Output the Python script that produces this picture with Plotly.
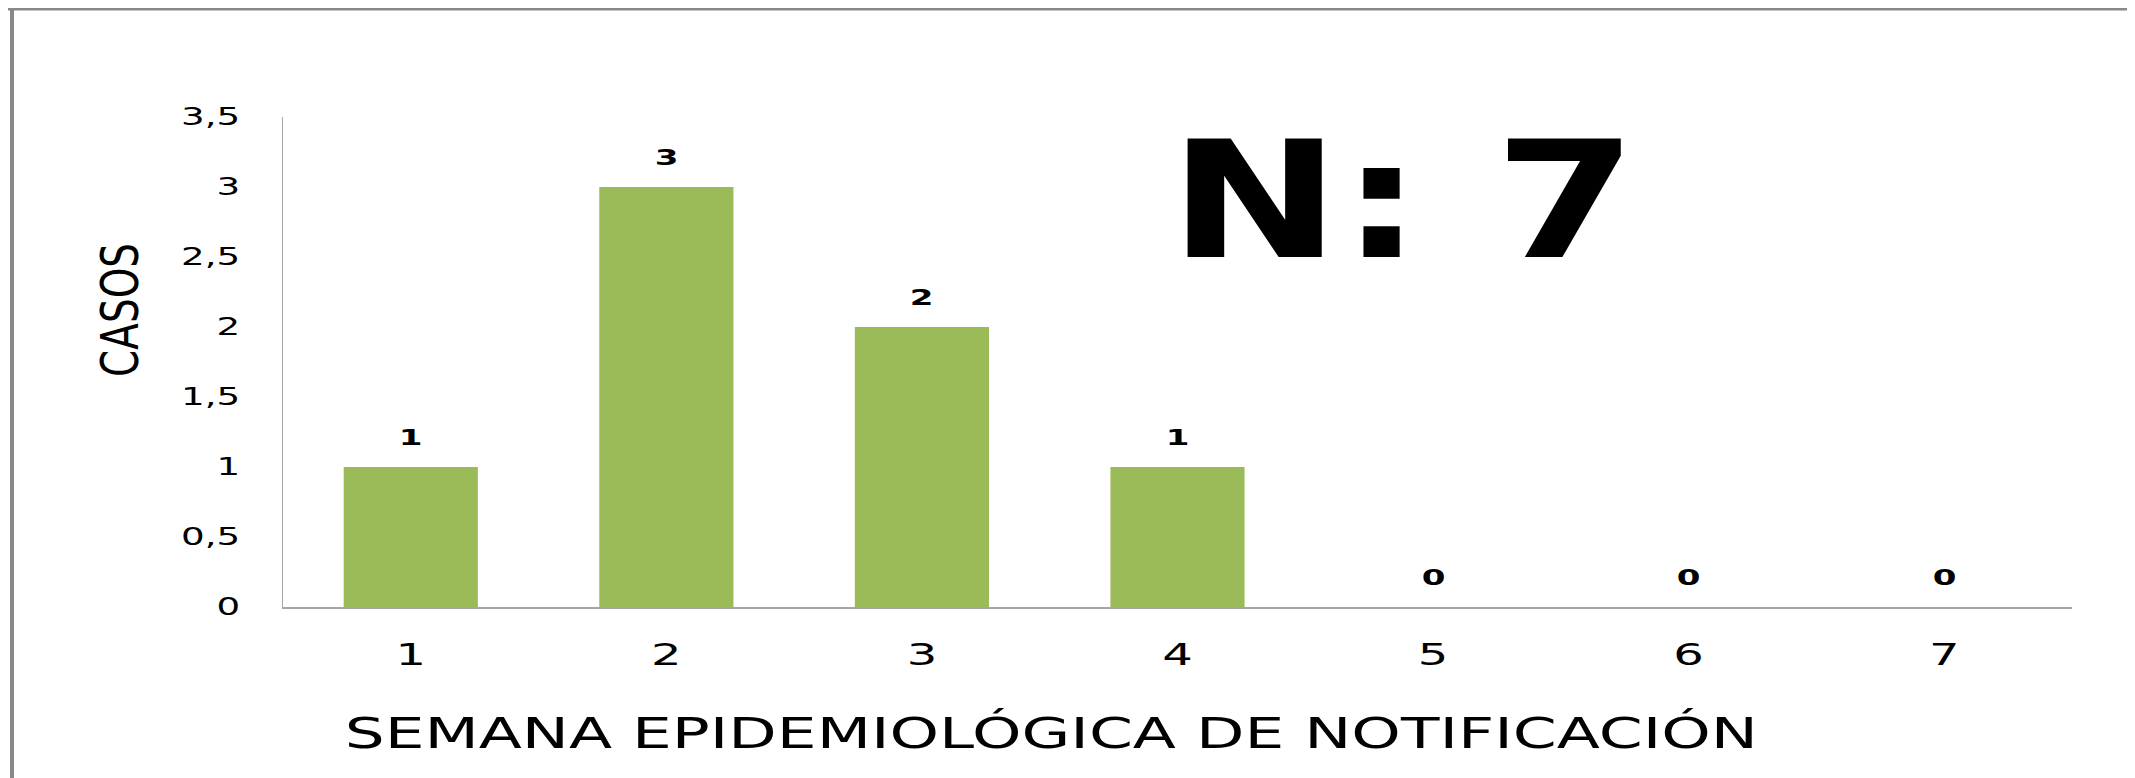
import plotly.graph_objects as go

semanas = ["1", "2", "3", "4", "5", "6", "7"]
casos = [1, 3, 2, 1, 0, 0, 0]
y_ticks = [0, 0.5, 1, 1.5, 2, 2.5, 3, 3.5]
y_tick_labels = ["0", "0,5", "1", "1,5", "2", "2,5", "3", "3,5"]
titulo_x = "SEMANA EPIDEMIOLÓGICA DE NOTIFICACIÓN"
titulo_y = "CASOS"
total_label = "N: 7"

OFF = 8  # default body margin of the page
W, H = 2135 - OFF, 778 - OFF
# plot area in page pixels: x 283..2072, y 117..607
L, R, T, B = 283 - OFF, 2135 - 2072, 117 - OFF, 778 - 607

def px_x(px):
    return (px - OFF - L) / (W - L - R)

def px_y(py):
    return (H - B - (py - OFF)) / (H - T - B)

fig = go.Figure()
fig.add_trace(go.Bar(
    x=semanas, y=casos,
    marker=dict(color="#9BBB59", line=dict(width=0)),
    width=0.525,
    hoverinfo="skip",
))

annotations = []
for i, v in enumerate(casos):
    annotations.append(dict(
        x=i, y=v, xref="x", yref="y", text=f"<b>{v}</b>",
        showarrow=False, yanchor="bottom", yshift=15,
        font=dict(family="DejaVu Sans", size=22, color="#000000"),
    ))

annotations.append(dict(
    x=px_x(120), y=px_y(310), xref="paper", yref="paper",
    text=titulo_y, textangle=-90, showarrow=False,
    xanchor="center", yanchor="middle",
    font=dict(family="DejaVu Sans", size=39, color="#000000"),
))
annotations.append(dict(
    x=px_x(1051), y=px_y(733), xref="paper", yref="paper",
    text=titulo_x, showarrow=False, xanchor="center", yanchor="middle",
    font=dict(family="DejaVu Sans", size=42, color="#000000"),
))
annotations.append(dict(
    x=px_x(1403), y=px_y(200), xref="paper", yref="paper",
    text=f"<b>{total_label}</b>", showarrow=False, xanchor="center", yanchor="middle",
    font=dict(family="DejaVu Sans", size=163, color="#000000"),
))

fig.update_layout(
    width=W, height=H,
    margin=dict(l=L, r=R, t=T, b=B, pad=0),
    paper_bgcolor="white", plot_bgcolor="white",
    showlegend=False,
    annotations=annotations,
    xaxis=dict(
        type="category", range=[-0.5, 6.5],
        showline=True, linecolor="#A6A6A6", linewidth=2,
        showgrid=False, zeroline=False,
        ticks="outside", ticklen=19, tickcolor="rgba(0,0,0,0)",
        tickfont=dict(family="DejaVu Sans", size=31, color="#000000"),
        fixedrange=True,
    ),
    yaxis=dict(
        range=[0, 3.5], tickvals=y_ticks, ticktext=y_tick_labels,
        showline=True, linecolor="#A6A6A6", linewidth=1,
        showgrid=False, zeroline=False,
        ticks="outside", ticklen=37, tickcolor="rgba(0,0,0,0)",
        tickfont=dict(family="DejaVu Sans", size=24, color="#000000"),
        fixedrange=True,
    ),
    shapes=[
        dict(type="line", xref="paper", yref="paper",
             x0=px_x(8), x1=px_x(2135), y0=px_y(9), y1=px_y(9),
             line=dict(color="#888888", width=3)),
        dict(type="line", xref="paper", yref="paper",
             x0=px_x(12), x1=px_x(12), y0=px_y(8), y1=px_y(778),
             line=dict(color="#888888", width=4)),
    ],
)

# The reference text is horizontally stretched; reproduce that on the real text nodes.
post = """
function stretch(t, sx, sy, anchor){
  var bb = t.getBBox();
  var cx = anchor === 'end' ? bb.x + bb.width : bb.x + bb.width / 2;
  var cy = bb.y + bb.height / 2;
  var ex = t.getAttribute('transform') || '';
  t.setAttribute('transform', ex + ' translate(' + cx + ',' + cy + ') scale(' + sx + ',' + sy + ') translate(' + (-cx) + ',' + (-cy) + ')');
}
document.querySelectorAll('text.annotation-text').forEach(function(t){
  var s = t.textContent;
  if (s === '%s') { stretch(t, 1.5, 1, 'mid'); }
  else if (s === '%s') { stretch(t, 1.26, 1, 'mid'); }
  else if (s === '%s') { stretch(t, 1, 1.33, 'mid'); }
  else { stretch(t, 1.55, 1, 'mid'); }
});
document.querySelectorAll('.ytick text').forEach(function(t){ stretch(t, 1.55, 1, 'end'); });
document.querySelectorAll('.xtick text').forEach(function(t){ stretch(t, 1.55, 1, 'mid'); });
""" % (titulo_x, total_label, titulo_y)

fig.write_html("out.html", config={"displayModeBar": False}, post_script=post)
